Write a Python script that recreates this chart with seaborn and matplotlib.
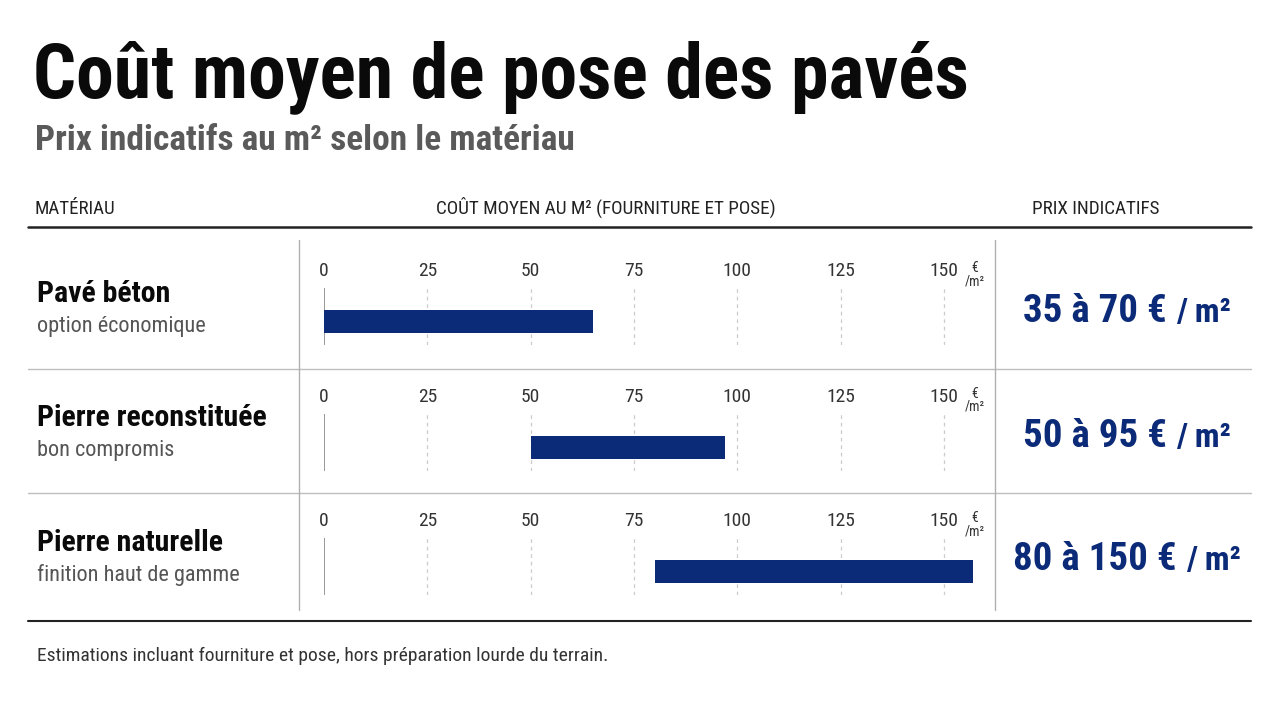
import matplotlib
matplotlib.use("Agg")
import matplotlib.pyplot as plt
import seaborn as sns
import pandas as pd
from matplotlib.lines import Line2D

sns.set_theme(style="white")
plt.rcParams['font.family'] = ['Roboto Condensed', 'Roboto', 'DejaVu Sans']

# ---- data ----
materials = ["Pavé béton", "Pierre reconstituée", "Pierre naturelle"]
subtitles = ["option économique", "bon compromis", "finition haut de gamme"]
bar_low = [0, 50, 80]
bar_high = [65, 97, 157]
price_main = ["35 à 70 €", "50 à 95 €", "80 à 150 €"]
price_unit = "/ m²"
tick_values = [0, 25, 50, 75, 100, 125, 150]

df = pd.DataFrame({"material": materials, "low": bar_low, "high": bar_high})

NAVY = "#0b2a78"
W, H = 1280, 702
fig = plt.figure(figsize=(W / 100, H / 100), dpi=100)
fig.patch.set_facecolor("white")


def fx(x):
    return x / W


def fy(y):
    return 1 - y / H


def hline(y, x0, x1, color, lw):
    fig.add_artist(Line2D([fx(x0), fx(x1)], [fy(y), fy(y)], color=color, lw=lw,
                          transform=fig.transFigure))


def vline(x, y0, y1, color, lw):
    fig.add_artist(Line2D([fx(x), fx(x)], [fy(y0), fy(y1)], color=color, lw=lw,
                          transform=fig.transFigure))


# ---- titles ----
fig.text(fx(33), fy(97), "Coût moyen de pose des pavés", fontsize=54.5, fontweight="black",
         color="#0a0a0a", va="baseline", ha="left")
fig.text(fx(35), fy(150), "Prix indicatifs au m² selon le matériau", fontsize=25.5,
         fontweight="bold", color="#5a5a5a", va="baseline", ha="left")

# ---- header ----
fig.text(fx(35), fy(214), "MATÉRIAU", fontsize=13.6, color="#222222", va="baseline")
fig.text(fx(606), fy(214), "COÛT MOYEN AU M² (FOURNITURE ET POSE)", fontsize=13.8,
         color="#222222", va="baseline", ha="center")
fig.text(fx(1096), fy(214), "PRIX INDICATIFS", fontsize=13.8, color="#222222",
         va="baseline", ha="center")

hline(227, 28, 1251, "#222222", 1.8)
hline(369, 28, 1251, "#bdbdbd", 1.0)
hline(493, 28, 1251, "#bdbdbd", 1.0)
hline(621, 28, 1251, "#222222", 1.5)
vline(299, 240, 610, "#b0b0b0", 1.0)
vline(995, 240, 610, "#b0b0b0", 1.0)

# ---- rows ----
name_base = [302, 426, 551]
grid_top = [288, 414, 538]
price_base = [322, 447, 570]
x0_px, x1_px = 324, 980
px_per_unit = 103.3 / 25
xmax = (x1_px - x0_px) / px_per_unit

main_texts = []
for i, row in df.iterrows():
    fig.text(fx(37), fy(name_base[i]), row["material"], fontsize=21.5, fontweight="black",
             color="#0a0a0a", va="baseline")
    fig.text(fx(37), fy(name_base[i] + 30), subtitles[i], fontsize=16,
             color="#555555", va="baseline")
    t = fig.text(fx(1127), fy(price_base[i]), price_main[i] + " ", fontsize=28,
                 fontweight="bold", color=NAVY, va="baseline", ha="left")
    main_texts.append(t)

    top = grid_top[i]
    bot = top + 57
    ax = fig.add_axes([fx(x0_px), fy(bot), fx(x1_px) - fx(x0_px), (bot - top) / H])
    ax.set_facecolor("none")
    ax.barh([0], [row["high"] - row["low"]], left=[row["low"]], height=0.4,
            color=NAVY, edgecolor="none", zorder=3)
    ax.set_xlim(0, xmax)
    ax.set_ylim(-0.41, 0.59)
    ax.set_yticks([])
    ax.set_xticks(tick_values)
    ax.xaxis.tick_top()
    ax.tick_params(axis="x", length=0, pad=6, labelsize=14, labelcolor="#333333")
    for v in tick_values:
        if v == 0:
            ax.axvline(v, color="#888888", lw=1.2, zorder=2)
        else:
            ax.axvline(v, color="#cccccc", lw=0.9, ls=(0, (3, 3)), zorder=1)
    sns.despine(ax=ax, left=True, bottom=True, top=True, right=True)
    ax.text(157.5, 1.0, "€\n/m²", transform=ax.get_xaxis_transform(), fontsize=10,
            color="#333333", ha="center", va="bottom", multialignment="center",
            linespacing=0.95)

# place price parts side by side, centred as a group
fig.canvas.draw()
renderer = fig.canvas.get_renderer()
for i, t in enumerate(main_texts):
    u = fig.text(0, fy(price_base[i]), price_unit, fontsize=24, fontweight="bold",
                 color=NAVY, va="baseline", ha="left")
    wm = t.get_window_extent(renderer).width
    wu = u.get_window_extent(renderer).width
    left = 1127 - (wm + wu) / 2
    t.set_x(fx(left))
    u.set_x(fx(left + wm))

# ---- footer ----
fig.text(fx(37), fy(661), "Estimations incluant fourniture et pose, hors préparation lourde du terrain.",
         fontsize=14, color="#333333", va="baseline")

fig.savefig("out.png", dpi=100, facecolor="white")
